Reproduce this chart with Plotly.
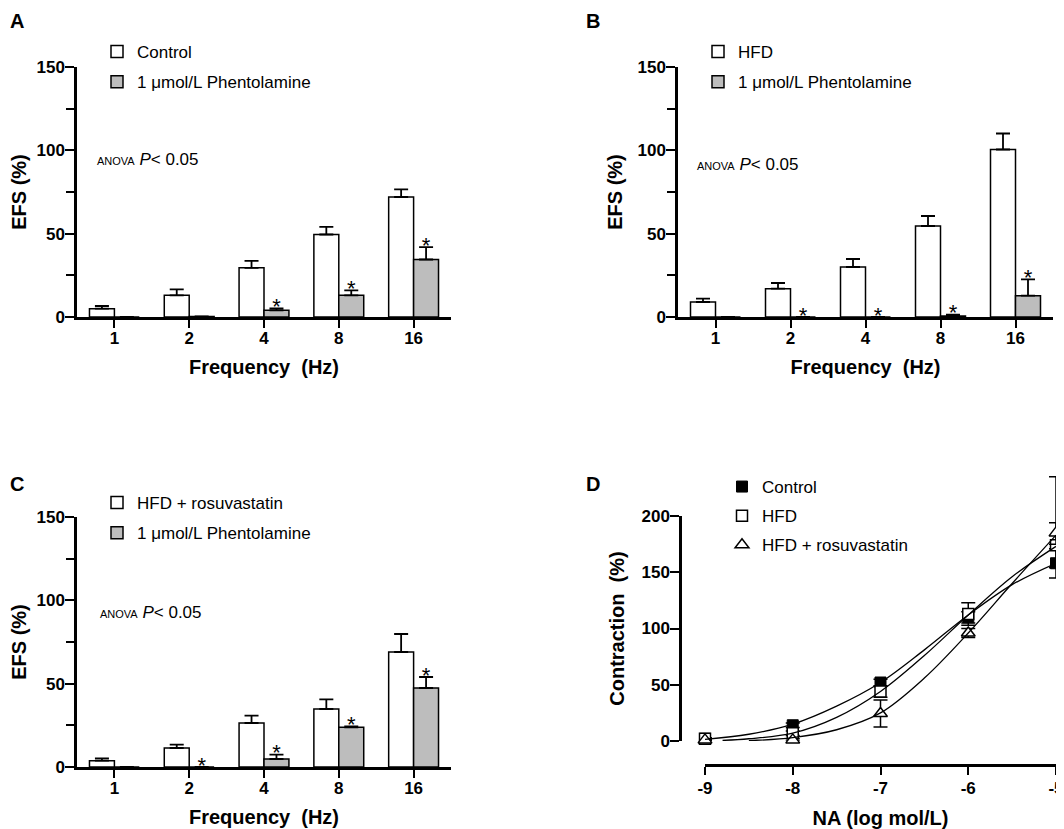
import plotly.graph_objects as go

# the page body has an 8px margin, so the figure is made 8px smaller
# and every position below is given in screen pixels, then shifted
OFF = 8
W, H = 1064 - OFF, 829 - OFF
FONT = 'Liberation Sans, Arial, sans-serif'

# Panels A-C: EFS responses by frequency
freq_labels = ['1', '2', '4', '8', '16']

a_control = [5, 13, 29.5, 49.5, 72]
a_control_err = [1.6, 3.6, 4.2, 4.6, 4.6]
a_phent = [0, 0.3, 4, 13, 34.5]
a_phent_err = [0, 0, 1.2, 3, 7.4]
a_stars = [2, 3, 4]

b_hfd = [9, 17, 30, 54.6, 100.5]
b_hfd_err = [2, 3.4, 4.8, 6, 9.6]
b_phent = [0, 0, 0, 0.6, 12.8]
b_phent_err = [0, 0, 0, 0.8, 9.8]
b_stars = [1, 2, 3, 4]

c_rosu = [3.8, 11.4, 26.4, 34.8, 69]
c_rosu_err = [1.4, 2, 4.4, 5.8, 10.8]
c_phent = [0, 0, 4.8, 23.8, 47.4]
c_phent_err = [0, 0, 2.6, 0.6, 6.6]
c_stars = [1, 2, 3, 4]

# Panel D: noradrenaline concentration-response
log_na = [-9, -8, -7, -6, -5]
d_control = [2, 14, 52, 110, 158]
d_control_err = [1, 2, 3, 5, 13]
d_hfd = [2, 7, 44, 113, 174]
d_hfd_err = [1, 2, 5, 10, 20]
d_rosu = [1, 1, 24.5, 96, 185]
d_rosu_err_up = [1, 1, 12, 4, 50]
d_rosu_err_dn = [1, 1, 12, 4, 10]

# fitted curves
fit_control_x = [-9, -8.5, -8, -7.5, -7, -6.5, -6, -5.5, -5]
fit_control_y = [1.5, 6, 15, 31, 52, 81, 112, 139, 158]
fit_hfd_x = [-8.8, -8.5, -8, -7.5, -7, -6.5, -6, -5.5, -5]
fit_hfd_y = [0.5, 2, 7, 21, 44, 76, 112, 146, 173]
fit_rosu_x = [-8.5, -8, -7.5, -7, -6.5, -6, -5.5, -5]
fit_rosu_y = [0.3, 3, 10, 25, 56, 96, 140, 183]

BAR_W = 1 / 3


def px(x):
    return (x - OFF) / W


def py(y):
    return 1 - (y - OFF) / H


def dom_x(left, right):
    return [px(left), px(right)]


def dom_y(top, bottom):
    return [py(bottom), py(top)]


fig = go.Figure()


def add_bar_panel(n, main, main_err, phent, phent_err, stars, main_name, legend):
    xa = 'x' if n == 1 else 'x%d' % n
    ya = 'y' if n == 1 else 'y%d' % n
    idx = list(range(len(freq_labels)))
    fig.add_trace(go.Bar(
        x=idx, y=main, name=main_name, xaxis=xa, yaxis=ya, legend=legend, legendgroup='m%d' % n,
        width=BAR_W, offset=-BAR_W,
        marker=dict(color='white', line=dict(color='black', width=1.5)),
        error_y=dict(type='data', array=main_err, arrayminus=[0] * len(main),
                     symmetric=False, color='black', thickness=1.8, width=7),
    ))
    fig.add_trace(go.Bar(
        x=idx, y=phent, name='1 μmol/L Phentolamine', xaxis=xa, yaxis=ya, legend=legend,
        legendgroup='p%d' % n, width=BAR_W, offset=0,
        marker=dict(color='#bdbdbd', line=dict(color='black', width=1.5)),
        error_y=dict(type='data', array=phent_err, arrayminus=[0] * len(phent),
                     symmetric=False, color='black', thickness=1.8, width=7),
    ))
    # significance stars just above the phentolamine bars
    fig.add_trace(go.Scatter(
        x=[i + BAR_W / 2 for i in stars],
        y=[phent[i] + phent_err[i] for i in stars],
        mode='text', text=['*'] * len(stars), textposition='middle center',
        textfont=dict(family=FONT, size=22, color='black'),
        xaxis=xa, yaxis=ya, showlegend=False, cliponaxis=False, hoverinfo='skip',
    ))


add_bar_panel(1, a_control, a_control_err, a_phent, a_phent_err, a_stars, 'Control', 'legend')
add_bar_panel(2, b_hfd, b_hfd_err, b_phent, b_phent_err, b_stars, 'HFD', 'legend2')
add_bar_panel(3, c_rosu, c_rosu_err, c_phent, c_phent_err, c_stars, 'HFD + rosuvastatin', 'legend3')

# panel D curves (on the visible 0-200 axis)
for fx, fy in [(fit_control_x, fit_control_y), (fit_hfd_x, fit_hfd_y), (fit_rosu_x, fit_rosu_y)]:
    fig.add_trace(go.Scatter(
        x=fx, y=fy, mode='lines', line=dict(color='black', width=1.3, shape='spline'),
        xaxis='x4', yaxis='y5', showlegend=False, hoverinfo='skip',
    ))

# panel D points (on a hidden axis with the same scale that runs higher,
# so the long error bar at -5 is not clipped)
fig.add_trace(go.Scatter(
    x=log_na, y=d_control, mode='markers', name='Control', xaxis='x4', yaxis='y4',
    legend='legend4', legendgroup='dc', cliponaxis=False,
    marker=dict(symbol='square', size=11, color='black', line=dict(color='black', width=1)),
    error_y=dict(type='data', array=d_control_err, color='black', thickness=1.5, width=7),
))
fig.add_trace(go.Scatter(
    x=log_na, y=d_hfd, mode='markers', name='HFD', xaxis='x4', yaxis='y4',
    legend='legend4', legendgroup='dh', cliponaxis=False,
    marker=dict(symbol='square', size=11, color='white', line=dict(color='black', width=1.5)),
    error_y=dict(type='data', array=d_hfd_err, color='black', thickness=1.5, width=7),
))
fig.add_trace(go.Scatter(
    x=log_na, y=d_rosu, mode='markers', name='HFD + rosuvastatin', xaxis='x4', yaxis='y4',
    legend='legend4', legendgroup='dr', cliponaxis=False,
    marker=dict(symbol='triangle-up', size=12, color='white', line=dict(color='black', width=1.5)),
    error_y=dict(type='data', array=d_rosu_err_up, arrayminus=d_rosu_err_dn, symmetric=False,
                 color='black', thickness=1.5, width=7),
))

tick_font = dict(family=FONT, size=17, color='black', weight='bold')
title_font = dict(family=FONT, size=20, color='black', weight='bold')

common_x = dict(
    showline=True, linecolor='black', linewidth=2.5, ticks='outside', ticklen=8,
    tickwidth=2, tickcolor='black', tickfont=tick_font, showgrid=False, zeroline=False,
    automargin=False, ticklabelstandoff=-4,
)
common_y = dict(
    showline=True, linecolor='black', linewidth=2.5, ticks='outside', ticklen=9,
    tickwidth=2, tickcolor='black', tickfont=tick_font, showgrid=False, zeroline=False,
    automargin=False, ticklabelstandoff=-3,
)

bar_x = dict(common_x, range=[-0.5, 4.5], tickmode='array', tickvals=list(range(len(freq_labels))),
             ticktext=freq_labels, title=dict(text='Frequency  (Hz)', font=title_font, standoff=13))
bar_y = dict(common_y, range=[0, 150], tickmode='linear', tick0=0, dtick=50,
             minor=dict(dtick=25, ticks='outside', ticklen=8, tickwidth=2, tickcolor='black'),
             title=dict(text='EFS (%)', font=title_font, standoff=10))

# panel D: 0-200 spans screen rows 741..516
D_TOP, D_BOT = 516, 741
D_MAX = 200
d_px_per_unit = (D_BOT - D_TOP) / D_MAX
d_data_top = 250

fig.update_layout(
    width=W, height=H,
    margin=dict(l=0, r=0, t=0, b=0, autoexpand=False),
    paper_bgcolor='white', plot_bgcolor='rgba(0,0,0,0)',
    barmode='overlay',
    font=dict(family=FONT, color='black'),
    xaxis=dict(bar_x, domain=dom_x(77, 451), anchor='y'),
    yaxis=dict(bar_y, domain=dom_y(67, 317), anchor='x'),
    xaxis2=dict(bar_x, domain=dom_x(678, 1053), anchor='y2'),
    yaxis2=dict(bar_y, domain=dom_y(67, 317), anchor='x2'),
    xaxis3=dict(bar_x, domain=dom_x(77, 451), anchor='y3'),
    yaxis3=dict(bar_y, domain=dom_y(517, 767), anchor='x3'),
    # plain hyphen labels (as in the original) keep "-5" inside the page
    xaxis4=dict(common_x, domain=dom_x(705, 1056), range=[-9, -5], tickmode='array',
                tickvals=log_na, ticktext=[str(v) for v in log_na],
                anchor='free', position=py(765), ticklabeloverflow='allow', ticklabelstandoff=-1,
                title=dict(text='NA (log mol/L)', font=title_font, standoff=13)),
    yaxis4=dict(domain=dom_y(D_BOT - d_data_top * d_px_per_unit, D_BOT), range=[0, d_data_top],
                anchor='x4', visible=False),
    yaxis5=dict(common_y, domain=dom_y(D_TOP, D_BOT), range=[0, D_MAX], tickmode='linear',
                dtick=50, anchor='free', position=px(680),
                title=dict(text='Contraction  (%)', font=title_font, standoff=10)),
    showlegend=True,
)

leg_common = dict(font=dict(family=FONT, size=17, color='black'), bgcolor='rgba(0,0,0,0)',
                  xanchor='left', yanchor='top', traceorder='grouped', tracegroupgap=5)
fig.update_layout(
    legend=dict(leg_common, x=px(97), y=py(34)),
    legend2=dict(leg_common, x=px(698), y=py(34)),
    legend3=dict(leg_common, x=px(97), y=py(485)),
    legend4=dict(leg_common, x=px(722), y=py(469), tracegroupgap=4),
)

anova = "<span style='font-size:11px'>ANOVA</span> <i>P</i>&lt; 0.05"
for ax, ay in [(95, 160), (695, 165), (98, 612)]:
    fig.add_annotation(x=px(ax), y=py(ay), xref='paper', yref='paper', text=anova,
                       showarrow=False, xanchor='left', yanchor='middle',
                       font=dict(family=FONT, size=17, color='black'))

for label, lx, ly in [('A', 8, 8), ('B', 584, 8), ('C', 8, 471), ('D', 584, 471)]:
    fig.add_annotation(x=px(lx), y=py(ly), xref='paper', yref='paper', text=label,
                       showarrow=False, xanchor='left', yanchor='top',
                       font=dict(family=FONT, size=20, color='black', weight='bold'))

fig.write_html('out.html')
